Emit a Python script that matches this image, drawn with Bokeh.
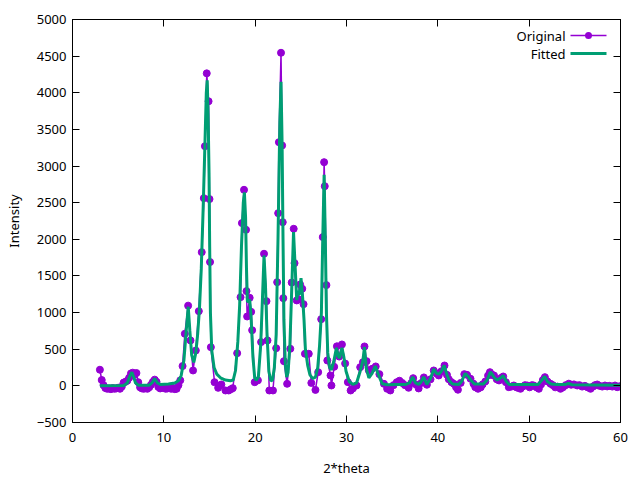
from bokeh.plotting import figure
from bokeh.models import Range1d, FixedTicker, LinearAxis, Label, BoxAnnotation
from bokeh.embed import file_html
from bokeh.resources import INLINE

# ---------------- data ----------------
# Original measured pattern, split by region
x1 = [3.0, 3.2, 3.4, 3.6, 3.8, 4.0, 4.2, 4.4, 4.6, 4.8, 5.0, 5.2, 5.4, 5.6, 5.8,
      6.0, 6.2, 6.4, 6.6, 6.8, 7.0, 7.2, 7.4, 7.6, 7.8, 8.0, 8.2, 8.4, 8.6, 8.8,
      9.0, 9.2, 9.4, 9.6, 9.8, 10.0, 10.2, 10.4, 10.6, 10.8, 11.0, 11.2, 11.4, 11.6, 11.8]
y1 = [220, 80, 10, -30, -40, -35, -45, -30, -40, -35, -25, -40, -10, 45, 55,
      70, 110, 170, 180, 150, 175, 50, -20, -35, -40, -30, -40, -20, 15, 55,
      85, 55, -15, -35, -20, -30, -40, -35, -25, -40, -30, -45, -40, 10, 75]

x2 = [12.05, 12.3, 12.66, 12.92, 13.2, 13.5, 13.83, 14.15, 14.38, 14.5,
      14.7, 14.9, 15.0, 15.06, 15.15, 15.55, 15.95, 16.3, 16.75, 17.1,
      17.35, 17.55, 18.03, 18.4, 18.55, 18.78, 19.0, 19.05, 19.12, 19.4,
      19.56, 19.67, 19.95, 20.3, 20.65, 20.97, 21.24, 21.35, 21.55, 21.95]
y2 = [270, 711, 1095, 620, 210, 483, 1020, 1825, 2562, 3271,
      4265, 3884, 2549, 1690, 528, 50, -27, 19, -63, -63,
      -45, -31, 446, 1211, 2221, 2676, 2130, 1293, 947, 1202,
      1010, 760, 50, 75, 597, 1803, 1156, 620, -63, -63]

x3 = [22.3, 22.41, 22.52, 22.6, 22.83, 22.95, 23.02, 23.08, 23.15, 23.5,
      23.85, 24.0, 24.22, 24.31, 24.55, 24.75, 24.92, 25.15, 25.3, 25.45,
      25.87, 26.15, 26.6, 26.9, 27.23, 27.4, 27.55, 27.62, 27.8, 27.9,
      28.25, 28.35]
y3 = [514, 1415, 2357, 3326, 4546, 3281, 2234, 1197, 337, 28,
      506, 1410, 2144, 1675, 1166, 1180, 1384, 1325, 1115, 438,
      438, 40, -55, 187, 910, 2030, 3053, 2725, 1375, 347,
      142, 5]

x4 = [28.65, 28.95, 29.2, 29.5, 29.85, 30.15, 30.45, 30.7, 31.1, 31.5,
      31.8, 31.97, 32.2, 32.45, 32.8, 33.2, 33.6, 34.1, 34.45, 34.8,
      35.15, 35.5, 35.8, 36.1, 36.4, 36.8, 37.1, 37.3, 37.6, 37.9,
      38.2, 38.47, 38.8, 39.2, 39.55, 39.85, 40.1, 40.4, 40.73, 41.0,
      41.2, 41.5, 41.75, 42.0, 42.2, 42.5, 42.9, 43.2, 43.58, 43.9,
      44.1, 44.4, 44.7, 44.9, 45.2, 45.5, 45.7, 45.95, 46.15, 46.45,
      46.7, 46.95, 47.16, 47.45, 47.77]
y4 = [260, 540, 400, 565, 305, 51, -63, -35, 5, 255,
      323, 538, 337, 210, 233, 265, 160, 28, -40, -63,
      10, 50, 70, 40, 10, -26, 40, 105, 20, -35,
      40, 115, 15, 90, 210, 170, 142, 200, 278, 150,
      90, 50, 28, -20, -53, 40, 160, 150, 97, 30,
      -18, -40, -20, 20, 60, 140, 187, 150, 142, 90,
      74, 110, 128, 50, -18]

x5 = [48.05, 48.32, 48.6, 48.85, 49.05, 49.3, 49.55, 49.8, 50.05, 50.3,
      50.5, 50.8, 51.06, 51.3, 51.5, 51.72, 52.0, 52.34, 52.6, 52.85,
      53.1, 53.43, 53.7, 54.0, 54.34, 54.6, 54.9, 55.26, 55.5, 55.8,
      56.1, 56.4, 56.72, 57.0, 57.2, 57.45, 57.7, 58.0, 58.3, 58.54,
      58.8, 59.1, 59.4, 59.64, 59.9]
y5 = [-10, 5, -20, -30, -40, -10, 10, 5, -20, 10,
      5, -20, -40, 20, 80, 119, 60, 28, 10, -20,
      -10, -40, -20, 10, 30, 15, 20, 5, 10, -10,
      0, -20, -40, -10, 10, 19, 0, -10, 5, -8,
      0, -10, 5, -18, -5]

# Fitted profile
fx1 = [3.0, 5.6, 6.0, 6.3, 6.5, 6.7, 6.9, 7.2, 8.4, 8.7,
       9.0, 9.3, 9.6, 10.5, 11.2, 11.6, 11.9, 12.2, 12.45, 12.67,
       12.85, 13.05, 13.28, 13.5, 13.7, 13.9, 14.1, 14.3, 14.5, 14.65,
       14.75, 14.85, 14.95, 15.02, 15.1, 15.25, 15.5, 15.8, 16.2, 16.75,
       17.3, 17.6, 17.85, 18.1, 18.3, 18.5, 18.7, 18.82, 18.95, 19.05,
       19.15, 19.3, 19.4, 19.55, 19.75, 19.95, 20.1, 20.35, 20.6, 20.8,
       20.97, 21.12, 21.3, 21.5, 21.7, 21.9]
fy1 = [0, 5, 40, 140, 185, 120, 40, 10, 10, 40,
       100, 40, 20, 25, 40, 70, 140, 350, 750, 1080,
       750, 420, 320, 450, 700, 1050, 1600, 2400, 3300, 4000,
       4170, 3700, 2900, 1900, 1000, 480, 250, 160, 110, 80,
       70, 80, 210, 600, 1100, 1900, 2500, 2640, 2300, 1600,
       1150, 1150, 1180, 950, 400, 110, 75, 120, 550, 1200,
       1780, 1400, 700, 200, 70, 80]

fx2 = [22.1, 22.3, 22.5, 22.7, 22.83, 22.95, 23.05, 23.15, 23.3, 23.45,
       23.6, 23.8, 24.0, 24.2, 24.35, 24.55, 24.7, 24.82, 25.02, 25.2,
       25.35, 25.5, 25.75, 26.0, 26.3, 26.6, 26.85, 27.05, 27.25, 27.4,
       27.55, 27.68, 27.8, 27.95, 28.15, 28.35, 28.6, 28.9, 29.1, 29.25,
       29.5, 29.7, 29.95, 30.3, 30.7, 31.1, 31.5, 31.8, 31.97, 32.15,
       32.45, 32.8, 33.15, 33.5, 33.9, 34.5, 35.5, 36.5, 36.9, 37.25,
       37.55, 37.9, 38.15, 38.45, 38.8, 39.2, 39.55, 39.85, 40.1, 40.4,
       40.7, 41.0, 41.25, 41.6, 42.3, 42.6, 43.0, 43.3, 43.6, 44.0,
       45.0, 45.4, 45.75, 46.0, 46.2, 46.5, 46.9, 47.15, 47.5, 47.8,
       51.0, 51.4, 51.7, 52.0, 52.4, 53.0, 54.0, 54.3, 54.7, 60.0]
fy2 = [250, 700, 2000, 3600, 4150, 3300, 2000, 900, 300, 120,
       180, 550, 1300, 2100, 1700, 1170, 1300, 1240, 1470, 1200,
       900, 500, 280, 150, 100, 120, 250, 550, 1000, 2000,
       2880, 2000, 1000, 450, 250, 220, 330, 520, 400, 380,
       520, 400, 200, 60, 20, 40, 200, 350, 530, 250,
       110, 170, 270, 150, 30, 15, 20, 20, 40, 120,
       40, 20, 50, 120, 20, 100, 230, 170, 160, 200,
       280, 150, 70, 25, 20, 60, 170, 130, 80, 25,
       25, 80, 190, 150, 110, 80, 110, 140, 60, 20,
       20, 80, 130, 60, 25, 20, 20, 35, 15, 10]

x_ticks = [0, 10, 20, 30, 40, 50, 60]
y_ticks = [-500, 0, 500, 1000, 1500, 2000, 2500, 3000, 3500, 4000, 4500, 5000]

two_theta = x1 + x2 + x3 + x4 + x5
intensity = y1 + y2 + y3 + y4 + y5
fit_theta = fx1 + fx2
fit_intensity = fy1 + fy2

# ---------------- styling ----------------
FONT = "Noto Sans"
FS = "13px"
PURPLE = "#9400d3"
GREEN = "#009e73"

p = figure(width=640, height=480, output_backend="svg", toolbar_location=None,
           x_range=Range1d(0, 60), y_range=Range1d(-500, 5000),
           min_border_left=72, min_border_right=20, min_border_top=19,
           min_border_bottom=58)
p.grid.visible = False
p.outline_line_color = "black"
p.outline_line_width = 1
p.background_fill_color = "white"
p.border_fill_color = "white"

def style_axis(ax, ticks, show_labels=True):
    ax.ticker = FixedTicker(ticks=ticks)
    ax.major_tick_in = 7
    ax.major_tick_out = 0
    ax.minor_tick_in = 0
    ax.minor_tick_out = 0
    ax.axis_line_color = "black"
    ax.major_tick_line_color = "black"
    ax.major_label_text_font = FONT
    ax.axis_label_text_font = FONT
    ax.axis_label_text_font_style = "normal"
    ax.axis_label_text_font_size = FS
    ax.axis_label_text_color = "black"
    if show_labels:
        ax.major_label_text_font_size = FS
        ax.major_label_text_color = "black"
    else:
        # tick marks only, no labels drawn (gnuplot mirror ticks)
        ax.major_label_text_font_size = "1px"
        ax.major_label_text_color = None
        ax.major_label_standoff = 0

xb = p.below[0]
yl = p.left[0]
style_axis(xb, x_ticks)
style_axis(yl, y_ticks)
xb.axis_label = "2*theta"
yl.axis_label = "Intensity"
xb.major_label_standoff = 10
xb.axis_label_standoff = 14
yl.major_label_standoff = 6
yl.axis_label_standoff = 11

top_ax = LinearAxis()
style_axis(top_ax, x_ticks, show_labels=False)
p.add_layout(top_ax, "above")
right_ax = LinearAxis()
style_axis(right_ax, y_ticks, show_labels=False)
p.add_layout(right_ax, "right")

# data
p.line(two_theta, intensity, line_color=PURPLE, line_width=1.5)
p.scatter(two_theta, intensity, size=7, fill_color=PURPLE, line_color=PURPLE)
p.line(fit_theta, fit_intensity, line_color=GREEN, line_width=3)

# legend (gnuplot style: text on the left, sample on the right)
for txt, ly in (("Original", 387), ("Fitted", 369)):
    p.add_layout(Label(x=493, y=ly, x_units="screen", y_units="screen", text=txt,
                       text_align="right", text_baseline="middle",
                       text_font=FONT, text_font_size=FS, text_color="black"))
p.add_layout(BoxAnnotation(left=498, right=534, bottom=387, top=387,
                           left_units="screen", right_units="screen",
                           bottom_units="screen", top_units="screen",
                           fill_color=None, line_color=PURPLE, line_alpha=1,
                           line_width=1.5))
p.add_layout(BoxAnnotation(left=512.5, right=519.5, bottom=383.5, top=390.5,
                           left_units="screen", right_units="screen",
                           bottom_units="screen", top_units="screen",
                           border_radius=4, fill_color=PURPLE, fill_alpha=1,
                           line_color=None))
p.add_layout(BoxAnnotation(left=498, right=534, bottom=369, top=369,
                           left_units="screen", right_units="screen",
                           bottom_units="screen", top_units="screen",
                           fill_color=None, line_color=GREEN, line_alpha=1,
                           line_width=3))

open("out.html", "w").write(file_html(p, INLINE))
